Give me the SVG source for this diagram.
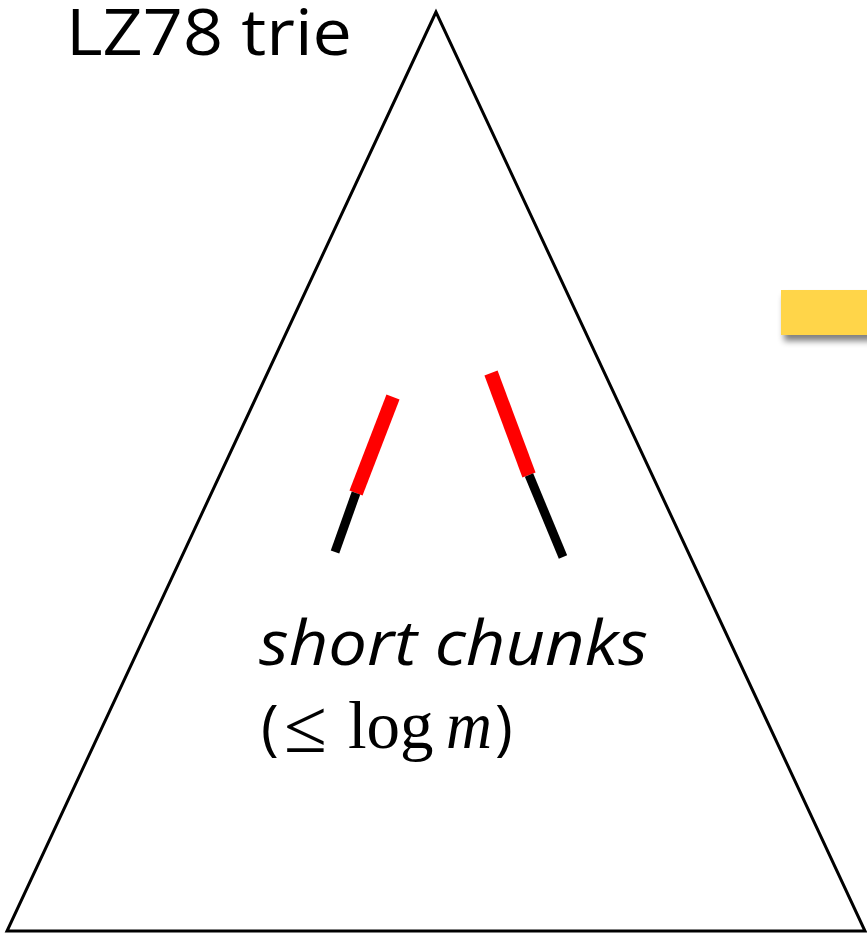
<svg xmlns="http://www.w3.org/2000/svg" width="867" height="934" viewBox="0 0 867 934">
<defs>
<style>
.sans{font-family:"Open Sans","Noto Sans","DejaVu Sans",sans-serif;fill:#000}
.serif{font-family:"Liberation Serif","Times New Roman",serif;fill:#000}
.red{stroke:#ff0000;stroke-width:14;stroke-linecap:butt}
.blk{stroke:#000;stroke-width:9;stroke-linecap:butt}
</style>
<filter id="sh" x="-20%" y="-20%" width="140%" height="200%">
<feGaussianBlur in="SourceAlpha" stdDeviation="3"/>
<feOffset dx="3" dy="6"/>
<feComponentTransfer><feFuncA type="linear" slope="0.5"/></feComponentTransfer>
<feMerge><feMergeNode/><feMergeNode in="SourceGraphic"/></feMerge>
</filter>
</defs>
<rect width="867" height="934" fill="#fff"/>
<g id="trie">
<polygon points="436,12 7,931 865,931" fill="none" stroke="#000" stroke-width="3" stroke-linejoin="miter"/>
<text class="sans" x="66" y="55" font-size="64" textLength="286" lengthAdjust="spacingAndGlyphs">LZ78 trie</text>
</g>
<g id="arrow">
<rect x="781" y="290" width="100" height="45" fill="#ffd54a" filter="url(#sh)"/>
</g>
<g id="chunks">
<line class="red" x1="393" y1="397" x2="356" y2="493"/>
<line class="blk" x1="356" y1="493" x2="335" y2="552"/>
<line class="red" x1="491" y1="373" x2="529" y2="475"/>
<line class="blk" x1="529" y1="475" x2="563" y2="557"/>
</g>
<g id="label">
<text class="sans" x="259" y="665" font-size="62" font-style="italic" textLength="389" lengthAdjust="spacingAndGlyphs">short chunks</text>
<text class="sans" x="261" y="748" font-size="60">(</text>
<text class="serif" x="284" y="752" font-size="76" textLength="43" lengthAdjust="spacingAndGlyphs">≤</text>
<text class="serif" x="348" y="748" font-size="67">log</text>
<text class="serif" x="446" y="748" font-size="67" font-style="italic" textLength="46" lengthAdjust="spacingAndGlyphs">m</text>
<text class="sans" x="495" y="748" font-size="60">)</text>
</g>
</svg>
